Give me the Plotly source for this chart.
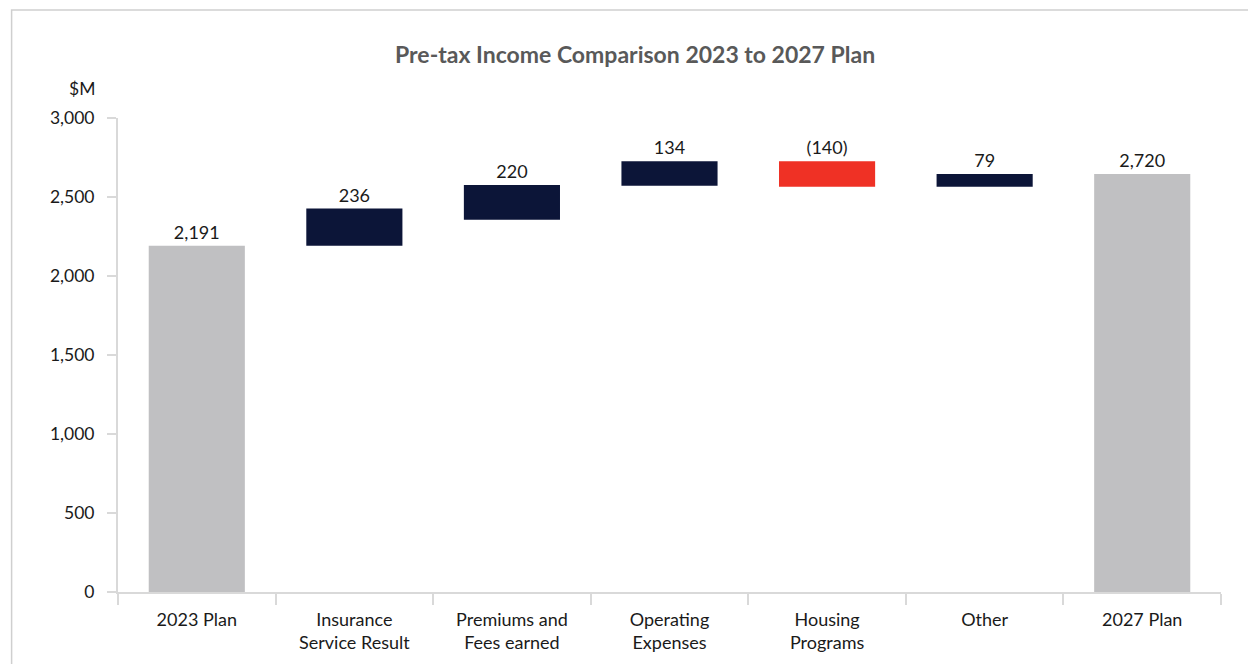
import plotly.graph_objects as go

# ---- data ----
categories = ["2023 Plan", "Insurance<br>Service Result", "Premiums and<br>Fees earned",
              "Operating<br>Expenses", "Housing<br>Programs", "Other", "2027 Plan"]
bar_bottom = [0, 2191, 2356, 2571, 2565, 2565, 0]
bar_top = [2191, 2427, 2576, 2727, 2727, 2645, 2645]
label_text = ["2,191", "236", "220", "134", "(140)", "79", "2,720"]
bar_kind = ["total", "increase", "increase", "increase", "decrease", "increase", "total"]
y_ticks = [0, 500, 1000, 1500, 2000, 2500, 3000]
y_tick_text = ["0", "500", "1,000", "1,500", "2,000", "2,500", "3,000"]

kind_color = {"total": "#c0c0c2", "increase": "#0c1538", "decrease": "#ef3125"}
heights = [t - b for t, b in zip(bar_top, bar_bottom)]
colors = [kind_color[k] for k in bar_kind]

FONT = "Lato, 'Open Sans', sans-serif"

fig = go.Figure(go.Bar(
    x=categories, y=heights, base=bar_bottom,
    marker=dict(color=colors, line=dict(width=0)),
    text=label_text, textposition="outside",
    textfont=dict(family=FONT, size=18, color="#1a1a1a"),
    cliponaxis=False, hoverinfo="skip",
))

fig.update_layout(
    width=1248, height=664,
    margin=dict(l=117.5, r=26.5, t=118, b=71.5),
    paper_bgcolor="white", plot_bgcolor="white",
    showlegend=False, bargap=0.39,
    font=dict(family=FONT, size=17, color="#1a1a1a"),
    title=dict(text="<b>Pre-tax Income Comparison 2023 to 2027 Plan</b>",
               x=0.4688, xref="paper", xanchor="center",
               y=1 - 55 / 664, yref="container", yanchor="middle",
               font=dict(family=FONT, size=23, color="#595959")),
)

fig.update_xaxes(
    type="category", showline=True, linecolor="#d9d9d9", linewidth=2,
    ticks="outside", tickson="boundaries", ticklen=11, tickwidth=2, tickcolor="#d9d9d9",
    ticklabelstandoff=10,
    showgrid=False, zeroline=False,
    tickfont=dict(family=FONT, size=18, color="#1a1a1a"),
)
fig.update_yaxes(
    range=[0, 3000], tickvals=y_ticks, ticktext=y_tick_text,
    showline=True, linecolor="#d9d9d9", linewidth=2,
    ticks="outside", ticklen=9, tickwidth=2, tickcolor="#d9d9d9",
    ticklabelstandoff=9,
    showgrid=False, zeroline=False,
    tickfont=dict(family=FONT, size=17.5, color="#1a1a1a"),
)

fig.add_annotation(text="$M", xref="paper", yref="paper",
                   x=(81 - 117.5) / 1104, y=(592.5 - 88) / 474.5,
                   xanchor="center", yanchor="middle", showarrow=False,
                   font=dict(family=FONT, size=17.5, color="#1a1a1a"))

# outer light border of the chart card
fig.add_shape(type="rect", xref="paper", yref="paper",
              x0=(11 - 117.5) / 1104, x1=(1260 - 117.5) / 1104,
              y0=(592.5 - 680) / 474.5, y1=(592.5 - 10) / 474.5,
              line=dict(color="#cfcfcf", width=1.5), fillcolor="rgba(0,0,0,0)", layer="below")

fig.write_html("out.html")
